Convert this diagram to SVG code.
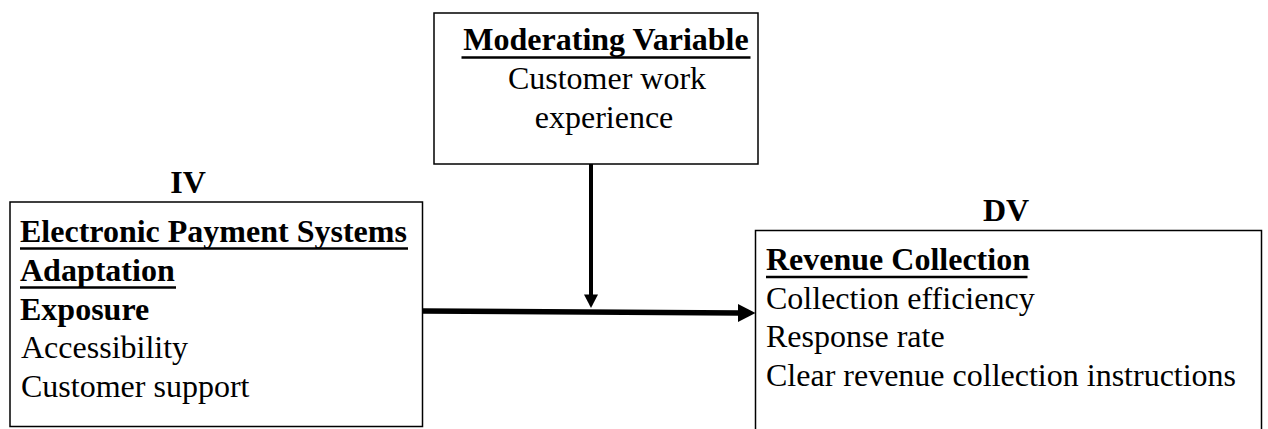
<svg xmlns="http://www.w3.org/2000/svg" width="1268" height="429" viewBox="0 0 1268 429">
<style>
.box{fill:#fff;stroke:#000;stroke-width:1.5}
text{font-family:"Liberation Serif","Times New Roman",serif;font-size:32px;fill:#000}
.b{font-weight:bold}
.ul{stroke:#000;stroke-width:2.5}
.c{stroke:#000;fill:none}
.head{fill:#000}
</style>
<rect width="1268" height="429" fill="#fff"/>
<g id="moderator">
<rect class="box" x="434" y="13" width="324" height="151"/>
<text class="b" x="606" y="50" text-anchor="middle">Moderating Variable</text>
<line class="ul" x1="461.5" y1="57.5" x2="750.5" y2="57.5"/>
<text x="607" y="89" text-anchor="middle">Customer work</text>
<text x="604" y="128" text-anchor="middle">experience</text>
</g>
<g id="iv">
<text class="b" x="188" y="193" text-anchor="middle">IV</text>
<rect class="box" x="10" y="202" width="412.5" height="224.5"/>
<text class="b" x="20" y="241.5">Electronic Payment Systems</text>
<line class="ul" x1="20" y1="248.5" x2="408" y2="248.5"/>
<text class="b" x="20" y="280.5">Adaptation</text>
<line class="ul" x1="20" y1="287.5" x2="176" y2="287.5"/>
<text class="b" x="20" y="319.5">Exposure</text>
<text x="21" y="358">Accessibility</text>
<text x="21" y="396.5">Customer support</text>
</g>
<g id="dv">
<text class="b" x="1006" y="220.5" text-anchor="middle">DV</text>
<rect class="box" x="755.5" y="230.5" width="506" height="210"/>
<text class="b" x="766" y="270">Revenue Collection</text>
<line class="ul" x1="766" y1="277" x2="1027.5" y2="277"/>
<text x="766" y="308.5">Collection efficiency</text>
<text x="766" y="347">Response rate</text>
<text x="766" y="385.5">Clear revenue collection instructions</text>
</g>
<g id="connectors">
<line class="c" x1="591" y1="164" x2="591" y2="296" stroke-width="4"/>
<polygon class="head" points="584,294.5 598,294.5 591,308"/>
<line class="c" x1="422.5" y1="311" x2="740" y2="313" stroke-width="5.5"/>
<polygon class="head" points="738,304 755.5,313 738,322"/>
</g>
</svg>
